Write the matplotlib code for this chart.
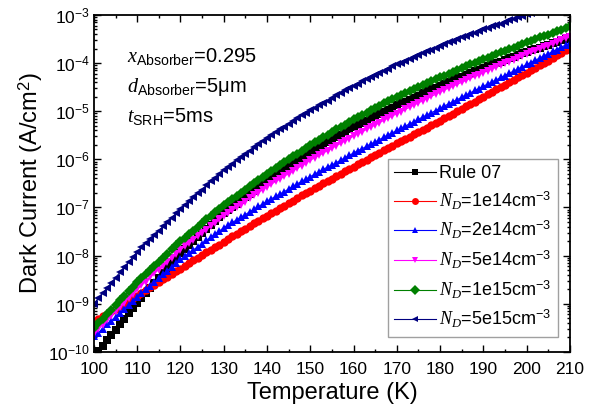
import numpy as np
import matplotlib
matplotlib.use("Agg")
import matplotlib.pyplot as plt
from matplotlib.ticker import LogLocator, MultipleLocator

plt.rcParams['font.family'] = ['Liberation Sans', 'DejaVu Sans']
plt.rcParams['mathtext.fontset'] = 'custom'
plt.rcParams['mathtext.rm'] = 'Liberation Sans'
plt.rcParams['mathtext.it'] = 'Liberation Serif:italic'
plt.rcParams['mathtext.bf'] = 'Liberation Sans:bold'
plt.rcParams['axes.unicode_minus'] = False

temperature = list(range(100, 211))

# log10 of dark current (A/cm^2), one value per kelvin
rule07 = [
    -10.10, -9.99, -9.88, -9.76, -9.65, -9.54, -9.43, -9.32, -9.20, -9.09,
    -8.98, -8.88, -8.77, -8.67, -8.57, -8.47, -8.36, -8.26, -8.16, -8.05,
    -7.95, -7.87, -7.78, -7.70, -7.62, -7.54, -7.45, -7.37, -7.29, -7.20,
    -7.12, -7.05, -6.99, -6.92, -6.85, -6.79, -6.72, -6.65, -6.58, -6.52,
    -6.45, -6.39, -6.33, -6.27, -6.21, -6.16, -6.10, -6.04, -5.98, -5.92,
    -5.86, -5.81, -5.75, -5.70, -5.65, -5.60, -5.54, -5.49, -5.44, -5.38,
    -5.33, -5.29, -5.24, -5.20, -5.15, -5.11, -5.06, -5.02, -4.97, -4.93,
    -4.88, -4.84, -4.80, -4.76, -4.72, -4.68, -4.63, -4.59, -4.55, -4.51,
    -4.47, -4.43, -4.40, -4.36, -4.32, -4.29, -4.25, -4.21, -4.17, -4.14,
    -4.10, -4.07, -4.03, -4.00, -3.97, -3.94, -3.90, -3.87, -3.84, -3.80,
    -3.77, -3.74, -3.71, -3.68, -3.65, -3.62, -3.59, -3.56, -3.53, -3.50,
    -3.47]
nd_1e14 = [
    -9.37, -9.32, -9.26, -9.21, -9.15, -9.10, -9.05, -8.99, -8.94, -8.88,
    -8.83, -8.77, -8.72, -8.66, -8.61, -8.55, -8.49, -8.44, -8.38, -8.33,
    -8.27, -8.21, -8.16, -8.10, -8.05, -7.99, -7.93, -7.88, -7.82, -7.77,
    -7.71, -7.66, -7.60, -7.55, -7.49, -7.44, -7.39, -7.33, -7.28, -7.22,
    -7.17, -7.12, -7.07, -7.01, -6.96, -6.91, -6.86, -6.81, -6.75, -6.70,
    -6.65, -6.60, -6.55, -6.50, -6.45, -6.40, -6.35, -6.30, -6.25, -6.20,
    -6.15, -6.10, -6.05, -6.01, -5.96, -5.91, -5.86, -5.81, -5.77, -5.72,
    -5.67, -5.62, -5.58, -5.53, -5.48, -5.44, -5.39, -5.34, -5.29, -5.25,
    -5.20, -5.15, -5.10, -5.05, -5.00, -4.95, -4.90, -4.85, -4.80, -4.75,
    -4.70, -4.65, -4.60, -4.55, -4.50, -4.45, -4.40, -4.35, -4.30, -4.25,
    -4.20, -4.15, -4.10, -4.05, -4.00, -3.95, -3.89, -3.84, -3.79, -3.74,
    -3.69]
nd_2e14 = [
    -9.68, -9.60, -9.52, -9.43, -9.35, -9.27, -9.19, -9.11, -9.02, -8.94,
    -8.86, -8.78, -8.70, -8.63, -8.55, -8.47, -8.39, -8.31, -8.24, -8.16,
    -8.08, -8.01, -7.95, -7.88, -7.82, -7.75, -7.68, -7.62, -7.55, -7.49,
    -7.42, -7.37, -7.31, -7.26, -7.20, -7.15, -7.09, -7.04, -6.98, -6.93,
    -6.87, -6.82, -6.77, -6.72, -6.67, -6.62, -6.56, -6.51, -6.46, -6.41,
    -6.36, -6.31, -6.26, -6.21, -6.16, -6.12, -6.07, -6.02, -5.97, -5.92,
    -5.87, -5.82, -5.78, -5.73, -5.68, -5.64, -5.59, -5.54, -5.49, -5.45,
    -5.40, -5.35, -5.31, -5.26, -5.22, -5.17, -5.12, -5.08, -5.03, -4.99,
    -4.94, -4.89, -4.85, -4.80, -4.76, -4.71, -4.66, -4.62, -4.57, -4.53,
    -4.48, -4.44, -4.39, -4.35, -4.30, -4.26, -4.21, -4.17, -4.12, -4.08,
    -4.03, -3.99, -3.94, -3.90, -3.85, -3.81, -3.76, -3.72, -3.67, -3.63,
    -3.58]
nd_5e14 = [
    -9.62, -9.53, -9.44, -9.34, -9.25, -9.16, -9.07, -8.98, -8.88, -8.79,
    -8.70, -8.62, -8.54, -8.45, -8.37, -8.29, -8.21, -8.13, -8.04, -7.96,
    -7.88, -7.81, -7.74, -7.67, -7.60, -7.53, -7.46, -7.39, -7.32, -7.25,
    -7.18, -7.12, -7.06, -7.00, -6.94, -6.88, -6.81, -6.75, -6.69, -6.63,
    -6.57, -6.52, -6.46, -6.41, -6.35, -6.30, -6.24, -6.19, -6.13, -6.08,
    -6.02, -5.97, -5.92, -5.87, -5.82, -5.77, -5.72, -5.67, -5.62, -5.57,
    -5.52, -5.47, -5.43, -5.38, -5.33, -5.29, -5.24, -5.19, -5.14, -5.10,
    -5.05, -5.01, -4.96, -4.92, -4.87, -4.83, -4.78, -4.74, -4.69, -4.65,
    -4.60, -4.56, -4.52, -4.48, -4.44, -4.40, -4.36, -4.32, -4.28, -4.24,
    -4.20, -4.16, -4.12, -4.09, -4.05, -4.01, -3.97, -3.93, -3.90, -3.86,
    -3.82, -3.78, -3.75, -3.71, -3.67, -3.64, -3.60, -3.56, -3.52, -3.49,
    -3.45]
nd_1e15 = [
    -9.50, -9.41, -9.31, -9.22, -9.12, -9.03, -8.93, -8.84, -8.74, -8.65,
    -8.55, -8.47, -8.38, -8.30, -8.21, -8.13, -8.04, -7.96, -7.87, -7.79,
    -7.70, -7.63, -7.55, -7.48, -7.40, -7.33, -7.25, -7.18, -7.10, -7.03,
    -6.95, -6.89, -6.82, -6.76, -6.69, -6.63, -6.56, -6.50, -6.43, -6.37,
    -6.30, -6.24, -6.18, -6.12, -6.06, -6.00, -5.94, -5.88, -5.82, -5.76,
    -5.70, -5.65, -5.59, -5.54, -5.49, -5.44, -5.38, -5.33, -5.28, -5.22,
    -5.17, -5.12, -5.08, -5.03, -4.98, -4.94, -4.89, -4.84, -4.79, -4.75,
    -4.70, -4.66, -4.62, -4.58, -4.54, -4.50, -4.46, -4.42, -4.38, -4.34,
    -4.30, -4.26, -4.22, -4.19, -4.15, -4.11, -4.07, -4.03, -4.00, -3.96,
    -3.92, -3.89, -3.85, -3.82, -3.78, -3.75, -3.71, -3.68, -3.64, -3.61,
    -3.57, -3.54, -3.50, -3.47, -3.44, -3.41, -3.37, -3.34, -3.31, -3.27,
    -3.24]
nd_5e15 = [
    -9.00, -8.89, -8.78, -8.68, -8.57, -8.46, -8.35, -8.24, -8.14, -8.03,
    -7.92, -7.83, -7.74, -7.65, -7.57, -7.48, -7.39, -7.30, -7.21, -7.12,
    -7.03, -6.95, -6.87, -6.79, -6.71, -6.63, -6.54, -6.46, -6.38, -6.30,
    -6.22, -6.15, -6.09, -6.02, -5.95, -5.89, -5.82, -5.75, -5.68, -5.62,
    -5.55, -5.49, -5.44, -5.38, -5.32, -5.27, -5.21, -5.15, -5.09, -5.04,
    -4.98, -4.93, -4.88, -4.83, -4.78, -4.73, -4.67, -4.62, -4.57, -4.52,
    -4.47, -4.43, -4.38, -4.34, -4.29, -4.25, -4.21, -4.16, -4.12, -4.07,
    -4.03, -3.99, -3.95, -3.91, -3.87, -3.84, -3.80, -3.76, -3.72, -3.68,
    -3.64, -3.61, -3.57, -3.54, -3.50, -3.47, -3.44, -3.40, -3.37, -3.33,
    -3.30, -3.27, -3.24, -3.21, -3.18, -3.15, -3.11, -3.08, -3.05, -3.02,
    -2.99, -2.96, -2.93, -2.90, -2.87, -2.85, -2.82, -2.79, -2.76, -2.73,
    -2.70]

series = [
    ("Rule 07", rule07, "black", "s"),
    (r"$N_D$=1e14cm$^{\mathrm{-3}}$", nd_1e14, "#ff0000", "o"),
    (r"$N_D$=2e14cm$^{\mathrm{-3}}$", nd_2e14, "#0000ff", "^"),
    (r"$N_D$=5e14cm$^{\mathrm{-3}}$", nd_5e14, "#ff00ff", "v"),
    (r"$N_D$=1e15cm$^{\mathrm{-3}}$", nd_1e15, "#008000", "D"),
    (r"$N_D$=5e15cm$^{\mathrm{-3}}$", nd_5e15, "#000080", "<"),
]

fig = plt.figure(figsize=(5.98, 4.13), dpi=100)
ax = fig.add_axes([0.157, 0.148, 0.796, 0.816])

for label, vals, col, mk in series:
    ms = 5.0 if mk == "D" else 6.0
    ax.plot(temperature, 10 ** np.array(vals), color=col, marker=mk, markersize=ms,
            lw=0.8, markeredgewidth=0, label=label)

ax.set_yscale("log")
ax.set_xlim(100, 210)
ax.set_ylim(1e-10, 1e-3)
ax.xaxis.set_major_locator(MultipleLocator(10))
ax.xaxis.set_minor_locator(MultipleLocator(5))
ax.yaxis.set_major_locator(LogLocator(base=10, numticks=20))
ax.yaxis.set_minor_locator(LogLocator(base=10, subs=np.arange(2, 10), numticks=20))
ax.tick_params(which="both", direction="in", top=True, right=True, labelsize=12.5, width=1)
ax.tick_params(axis="x", pad=7)
ax.tick_params(axis="y", pad=3)
ax.tick_params(which="major", length=5)
ax.tick_params(which="minor", length=2.5)
for sp in ax.spines.values():
    sp.set_linewidth(1.3)

ax.set_xlabel("Temperature (K)", fontsize=17, labelpad=4)
ax.set_ylabel("Dark Current (A/cm$^2$)", fontsize=17, labelpad=2)

ax.text(0.069, 0.861, r"$x_{\mathrm{Absorber}}$=0.295", transform=ax.transAxes, fontsize=14.5)
ax.text(0.069, 0.772, r"$d_{\mathrm{Absorber}}$=5μm", transform=ax.transAxes, fontsize=14.5)
ax.text(0.069, 0.683, r"$t_{\mathrm{SRH}}$=5ms", transform=ax.transAxes, fontsize=14.5)

leg = ax.legend(loc="lower right", bbox_to_anchor=(0.975, 0.045), fontsize=13, frameon=True,
                fancybox=False, edgecolor="#888888", handlelength=2.3, handletextpad=0.2,
                labelspacing=0.42, borderpad=0.35, borderaxespad=0)
leg.get_frame().set_linewidth(1)
for h in leg.get_lines():
    h.set_markersize(5)

fig.savefig("out.png", dpi=100)
